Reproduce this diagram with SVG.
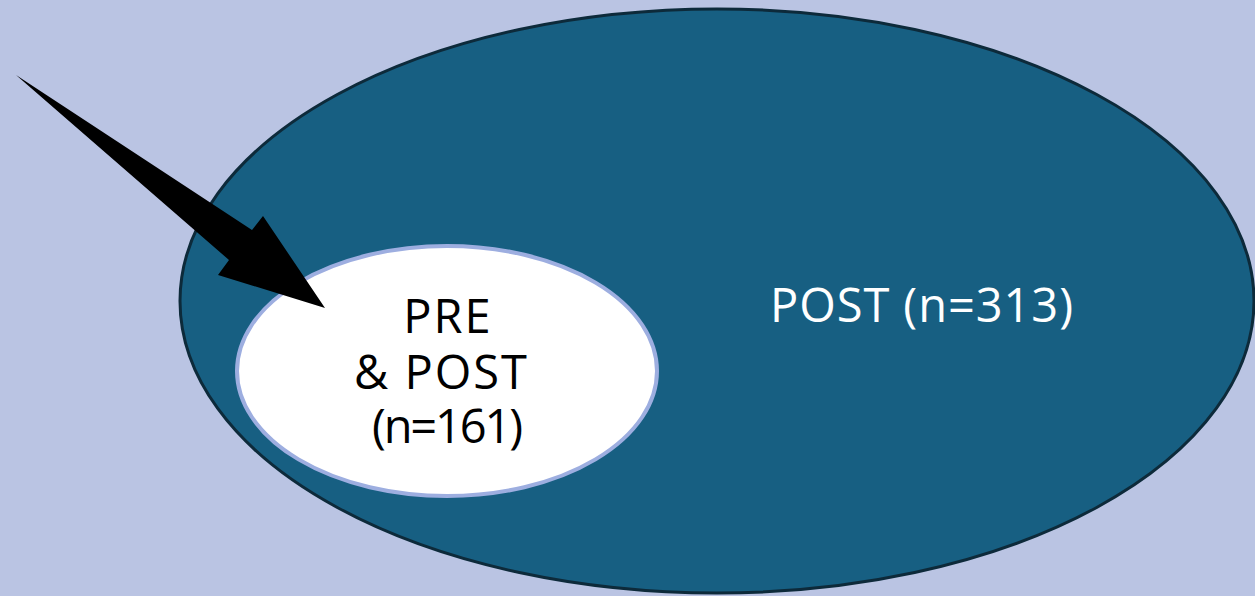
<svg xmlns="http://www.w3.org/2000/svg" width="1255" height="596" viewBox="0 0 1255 596">
<style>
.lbl{font-family:"Open Sans","Liberation Sans",sans-serif;font-size:47px;text-anchor:start}
</style>
<rect width="1255" height="596" fill="#bac4e3"/>
<g id="post">
<ellipse cx="717" cy="301" rx="537" ry="292" fill="#175f82" stroke="#0d2a3a" stroke-width="3"/>
<text class="lbl" x="770" y="322" fill="#ffffff" textLength="303" lengthAdjust="spacing">POST (n=313)</text>
</g>
<g id="prepost">
<ellipse cx="447" cy="371" rx="210" ry="125" fill="#ffffff" stroke="#9daee0" stroke-width="4"/>
<text class="lbl" x="448" y="333" fill="#000000" style="text-anchor:middle;letter-spacing:2px">PRE</text>
<text class="lbl" x="354" y="389" fill="#000000" textLength="173" lengthAdjust="spacing">&amp; POST</text>
<text class="lbl" x="372" y="443" fill="#000000" textLength="151" lengthAdjust="spacing">(n=161)</text>
</g>
<g id="connectors">
<polygon points="16,75 252,230 263,216 325,308 218,275 229,260" fill="#000000"/>
</g>
</svg>
